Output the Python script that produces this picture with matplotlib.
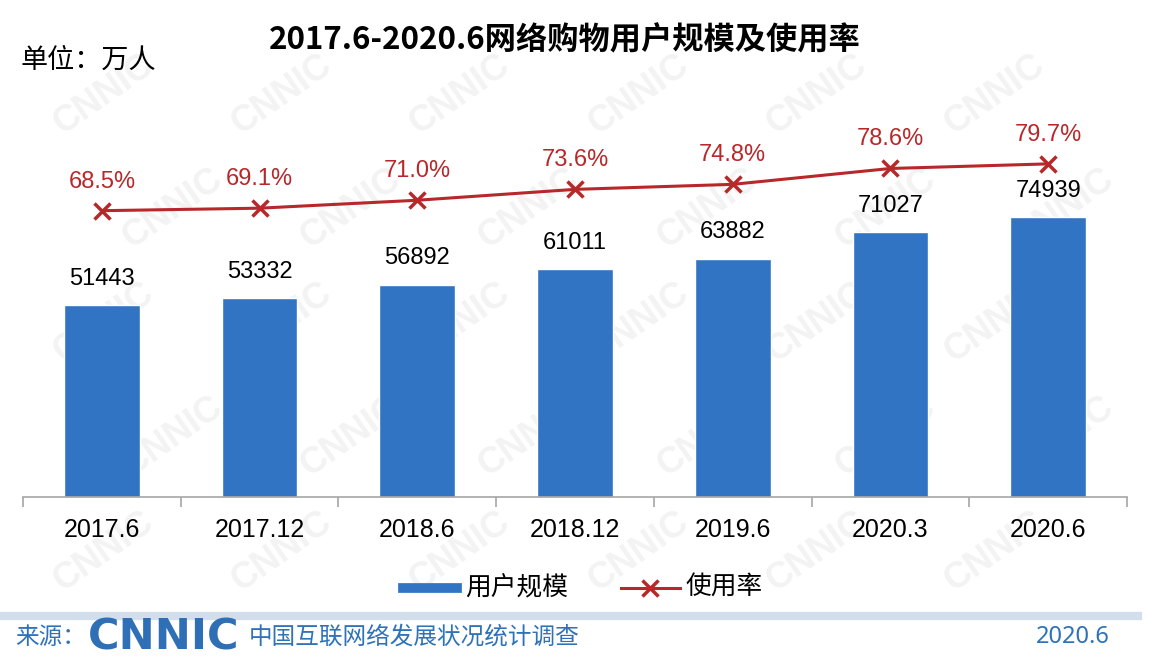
import matplotlib
matplotlib.use("Agg")
import matplotlib.pyplot as plt
import numpy as np

plt.rcParams['font.family'] = ['Liberation Sans', 'Noto Sans CJK SC', 'DejaVu Sans']

# data
periods = ['2017.6', '2017.12', '2018.6', '2018.12', '2019.6', '2020.3', '2020.6']
users = [51443, 53332, 56892, 61011, 63882, 71027, 74939]
rate = [68.5, 69.1, 71.0, 73.6, 74.8, 78.6, 79.7]

BLUE = '#3174C3'
RED = '#B8282A'
FOOT = '#2E72B8'
cjk = ['Noto Sans CJK SC', 'DejaVu Sans']

fig = plt.figure(figsize=(11.5, 6.72), dpi=100)

# faint watermark, kept inside the frame
for row in range(5):
    for col in range(6):
        fx = 0.09 + col * 0.155 + (row % 2) * 0.06
        fy = 0.86 - row * 0.17
        fig.text(fx, fy, 'CNNIC', fontsize=26, color='#F3F3F3', rotation=35,
                 ha='center', va='center', fontweight='bold', zorder=-5)

ax = fig.add_axes([0.02, 0.2604, 0.96, 0.622])
ax.patch.set_visible(False)
x = np.arange(len(periods))
ax.bar(x, users, width=0.48, color=BLUE, edgecolor='white', linewidth=1, zorder=2)
ax.set_ylim(0, 112000)
ax.set_xlim(-0.5, len(periods) - 0.5)
for xi, v in zip(x, users):
    ax.annotate(str(v), (xi, v), xytext=(0, 11), textcoords='offset points',
                ha='center', va='bottom', fontsize=17, color='black')

for s in ['top', 'right', 'left']:
    ax.spines[s].set_visible(False)
ax.spines['bottom'].set_color('#A6A6A6')
ax.spines['bottom'].set_linewidth(1.2)
ax.set_yticks([])
ax.set_xticks(x)
ax.set_xticklabels(periods, fontsize=18)
ax.tick_params(axis='x', which='major', length=0, pad=15)
ax.set_xticks(np.arange(len(periods) + 1) - 0.5, minor=True)
ax.tick_params(axis='x', which='minor', length=7, color='#A6A6A6', width=1.2)

ax2 = ax.twinx()
ax2.set_ylim(0, 100)
ax2.plot(x, rate, color=RED, lw=2.2, marker='x', markersize=12, mew=2.5, zorder=3)
for xi, r in zip(x, rate):
    ax2.annotate(f'{r:.1f}%', (xi, r), xytext=(0, 13), textcoords='offset points',
                 ha='center', va='bottom', fontsize=17, color=RED)
ax2.axis('off')

# title and unit
fig.text(0.491, 0.94, '2017.6-2020.6网络购物用户规模及使用率', ha='center', va='center',
         fontsize=22.5, fontweight='bold', family=cjk)
fig.text(0.018, 0.91, '单位：万人', ha='left', va='center', fontsize=19.5, family=cjk)

# legend
ly = 1 - 588 / 672
fig.add_artist(plt.Line2D([403 / 1150, 457 / 1150], [ly, ly], color=BLUE, lw=7))
fig.text(465 / 1150, ly, '用户规模', ha='left', va='center', fontsize=18.5, family=cjk)
fig.add_artist(plt.Line2D([621 / 1150, 680 / 1150], [ly, ly], color=RED, lw=2.2))
fig.add_artist(plt.Line2D([650 / 1150], [ly], color=RED, marker='x', markersize=11, mew=2.5))
fig.text(686 / 1150, ly, '使用率', ha='left', va='center', fontsize=18.5, family=cjk)

# footer
fig.add_artist(plt.Line2D([0, 1138 / 1150], [1 - 616 / 672] * 2, color='#D3DEEC', lw=6))
fy = 1 - 637 / 672
fig.text(0.013, fy, '来源：', ha='left', va='center', fontsize=17, color=FOOT, family=cjk)
fig.text(88 / 1150, fy, 'CNNIC', ha='left', va='center', fontsize=31, color='#2F6FB5',
         fontweight='heavy', family=['DejaVu Sans'])
fig.text(249 / 1150, fy, '中国互联网络发展状况统计调查', ha='left', va='center',
         fontsize=17, color=FOOT, family=cjk)
fig.text(1110 / 1150, fy, '2020.6', ha='right', va='center', fontsize=17, color=FOOT,
         family=['Noto Sans', 'DejaVu Sans'])

fig.savefig('out.png', dpi=100)
